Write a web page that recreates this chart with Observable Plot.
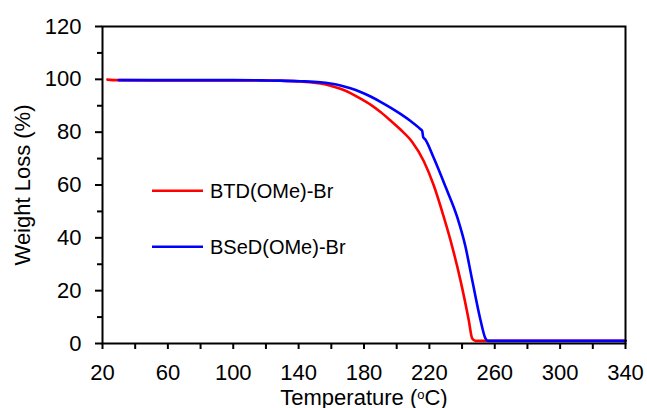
<!DOCTYPE html>
<html><head><meta charset="utf-8">
<script src="https://cdn.jsdelivr.net/npm/d3@7"></script>
<script src="https://cdn.jsdelivr.net/npm/@observablehq/plot@0.6"></script>
<style>
body{margin:0;background:#fff;}
#wrap{position:relative;width:647px;height:408px;}
</style></head><body><div id="wrap"></div>
<script>
const seriesNames = ["BTD(OMe)-Br", "BSeD(OMe)-Br"];
const seriesColors = ["#ff0000", "#0000ff"];
const btdTemp = [23, 29, 60, 100, 117, 129, 141, 147, 153.4, 159.5, 165.6, 171.7, 177.9, 184, 190.1, 196, 202.3, 209.5, 216.6, 222.7, 228.8, 234, 239, 244.1, 246.2, 248.2, 340];
const btdWeight = [99.9, 99.7, 99.6, 99.6, 99.55, 99.45, 99.2, 98.9, 98.4, 97.6, 96.4, 94.8, 92.7, 90.4, 87.6, 84.5, 81.0, 76.3, 69.0, 59.8, 47.9, 36.6, 24.0, 8.8, 1.9, 1.0, 1.0];
const bsedTemp = [30, 60, 100, 117, 129, 141, 153.4, 159.5, 165.6, 171.7, 177.9, 184, 190.1, 196.2, 202.3, 208.5, 214.6, 215.6, 216.2, 217.5, 222.7, 229.9, 237, 242.1, 246.2, 251.3, 254.3, 255.7, 340];
const bsedWeight = [99.7, 99.7, 99.7, 99.6, 99.5, 99.3, 98.9, 98.4, 97.7, 96.6, 95.2, 93.5, 91.5, 89.3, 86.9, 84.2, 81.1, 80.5, 78.2, 77.2, 70.2, 59.3, 47.9, 36.6, 24.0, 8.8, 1.9, 1.0, 1.0];
const xTickLabels = [20, 60, 100, 140, 180, 220, 260, 300, 340];
const xMinorTicks = [40, 80, 120, 160, 200, 240, 280, 320];
const yTickLabels = [0, 20, 40, 60, 80, 100, 120];
const yMinorTicks = [10, 30, 50, 70, 90, 110];
const xLabel = "Temperature (oC)";
const yLabel = "Weight Loss (%)";

const font = "'Liberation Sans', Arial, sans-serif";
const fs = 21;

const btd = btdTemp.map((t, i) => ({t, w: btdWeight[i], s: seriesNames[0]}));
const bsed = bsedTemp.map((t, i) => ({t, w: bsedWeight[i], s: seriesNames[1]}));

const W = 647, H = 408, mL = 102, mR = 22, mT = 26, mB = 65;

const chart = Plot.plot({
  width: W, height: H,
  marginLeft: mL, marginRight: mR, marginTop: mT, marginBottom: mB,
  style: {fontFamily: font, fontSize: fs + "px", color: "black", background: "white", overflow: "visible"},
  x: {domain: [20, 340]},
  y: {domain: [0, 120]},
  marks: [
    Plot.axisX(xMinorTicks, {tickSize: 6, strokeWidth: 2, tickFormat: () => "", label: null}),
    Plot.axisX(xTickLabels, {tickSize: 6, strokeWidth: 2, tickPadding: 15, fontSize: 22, label: xLabel, labelAnchor: "center", labelOffset: 61}),
    Plot.axisY(yMinorTicks, {tickSize: 5, strokeWidth: 2, tickFormat: () => "", label: null}),
    Plot.axisY(yTickLabels, {tickSize: 7, strokeWidth: 2, tickPadding: 14, fontSize: 22, label: yLabel, labelAnchor: "center", labelOffset: 88, labelArrow: "none"}),
    Plot.line(btd, {x: "t", y: "w", stroke: seriesColors[0], strokeWidth: 2.6, curve: "monotone-x"}),
    Plot.line(bsed, {x: "t", y: "w", stroke: seriesColors[1], strokeWidth: 2.6, curve: "monotone-x"}),
    Plot.frame({stroke: "black", strokeWidth: 2})
  ]
});

// superscript "o" in x label
const xl = chart.querySelector('g[aria-label="x-axis label"] text');
if (xl) {
  xl.textContent = "";
  const ns = "http://www.w3.org/2000/svg";
  const a = document.createElementNS(ns, "tspan"); a.textContent = "Temperature (";
  const b = document.createElementNS(ns, "tspan"); b.textContent = "o"; b.setAttribute("font-size", "13"); b.setAttribute("dy", "-6");
  const c = document.createElementNS(ns, "tspan"); c.textContent = "C)"; c.setAttribute("dy", "6");
  xl.append(a, b, c);
}

// legend
const svg = d3.select(chart);
const leg = svg.append("g").attr("font-family", font).attr("font-size", 20).attr("text-anchor", "start");
const legY = [190.7, 246.7];
seriesNames.forEach((n, i) => {
  leg.append("line").attr("x1", 152).attr("x2", 203).attr("y1", legY[i]).attr("y2", legY[i])
    .attr("stroke", seriesColors[i]).attr("stroke-width", 2.6);
  leg.append("text").attr("x", 210).attr("y", legY[i]).attr("dy", "0.35em").attr("fill", "black").text(n);
});

document.getElementById("wrap").append(chart);
</script></body></html>
